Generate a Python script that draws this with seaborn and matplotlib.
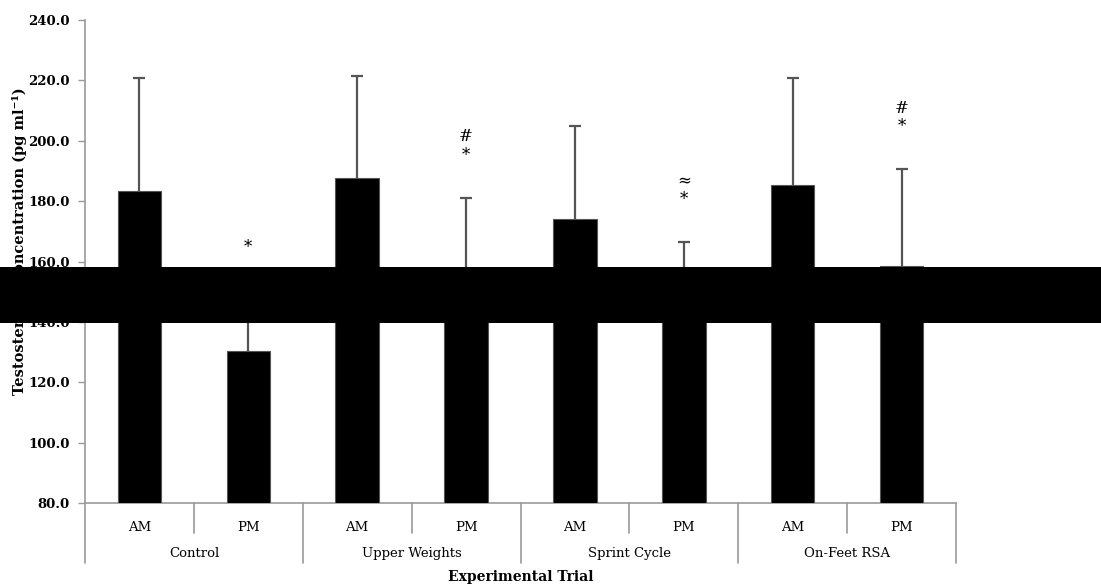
import matplotlib
matplotlib.use("Agg")
import matplotlib.pyplot as plt
import matplotlib.transforms as mtransforms
from matplotlib.patches import Rectangle
import numpy as np
import pandas as pd
import seaborn as sns

# ---- data ----
groups = ["Control", "Upper Weights", "Sprint Cycle", "On-Feet RSA"]
periods = ["AM", "PM"]
means = [183.5, 130.5, 187.5, 150.0, 174.0, 148.0, 185.2, 158.6]
errors = [37.2, 18.5, 33.8, 30.9, 30.8, 18.5, 35.6, 32.2]
y_ticks = [80, 100, 120, 140, 160, 180, 200, 220, 240]
# significance markers: (bar index, symbol, value level)
marks_bar = [1, 3, 3, 5, 5, 7, 7]
marks_sym = ["*", "*", "#", "*", "≈", "*", "#"]
marks_val = [164.5, 195.0, 201.3, 180.7, 186.7, 204.6, 210.8]

sns.set_theme(style="white")
plt.rcParams["font.family"] = ["DejaVu Serif", "DejaVu Sans"]
plt.rcParams["text.color"] = "black"
plt.rcParams["xtick.color"] = "black"
plt.rcParams["ytick.color"] = "black"

labels = [f"{g}|{p}" for g in groups for p in periods]
df = pd.DataFrame({"cond": labels, "value": means})

W, H = 1101, 585
fig = plt.figure(figsize=(W / 100, H / 100), dpi=100)
ax = fig.add_axes([85 / W, 1 - 503 / H, (956 - 85) / W, (503 - 20) / H])

ax.errorbar(np.arange(len(means)), means, yerr=errors, fmt="none",
            ecolor="#555555", elinewidth=1.6, capsize=4, capthick=1.6, zorder=2)
sns.barplot(data=df, x="cond", y="value", order=labels, color="black",
            width=0.40, edgecolor="#555555", linewidth=0.8, ax=ax,
            errorbar=None, saturation=1, zorder=3)

ax.set_ylim(80, 240)
ax.set_xlim(-0.5, len(means) - 0.5)
ax.set_yticks(y_ticks)
ax.set_yticklabels([f"{v:.1f}" for v in y_ticks], fontsize=9.5, fontweight="bold")
ax.tick_params(axis="y", left=True, length=5, width=1, color="#999999",
               labelcolor="black", pad=6)
ax.set_xticks(range(len(labels)))
ax.set_xticklabels(periods * len(groups), fontsize=9.5)
ax.tick_params(axis="x", bottom=False, length=0, pad=13, labelcolor="black")
ax.set_xlabel("")
ax.set_ylabel("")

for s in ["top", "right"]:
    ax.spines[s].set_visible(False)
for s in ["left", "bottom"]:
    ax.spines[s].set_color("#999999")
    ax.spines[s].set_linewidth(1.2)

trans = mtransforms.blended_transform_factory(ax.transData, ax.transAxes)
# category separators
for i in range(len(groups) + 1):
    x = -0.5 + 2 * i
    ax.plot([x, x], [0, -0.1242], transform=trans, color="#999999", lw=1.2,
            clip_on=False)
for i in range(len(groups)):
    x = 0.5 + 2 * i
    ax.plot([x, x], [0, -0.0621], transform=trans, color="#999999", lw=1.2,
            clip_on=False)
    ax.text(2 * i + 0.5, -0.105, groups[i], transform=trans, ha="center",
            va="center", fontsize=9.5, color="black")

for b, s, v in zip(marks_bar, marks_sym, marks_val):
    ax.text(b, v, s, ha="center", va="center", fontsize=12, color="black")

fig.text(520.5 / W, 1 - 577 / H, "Experimental Trial", ha="center",
         va="center", fontsize=10, fontweight="bold", color="black")
fig.text(20 / W, 1 - 241 / H, "Testosterone Concentration (pg ml⁻¹)",
         rotation=90, ha="center", va="center", fontsize=10.5,
         fontweight="bold", color="black")

# black redaction band
fig.patches.append(Rectangle((0, 1 - 323 / H), 1, 56 / H,
                             transform=fig.transFigure, facecolor="black",
                             edgecolor="none", zorder=10))

fig.savefig("out.png", dpi=100, facecolor="white")
